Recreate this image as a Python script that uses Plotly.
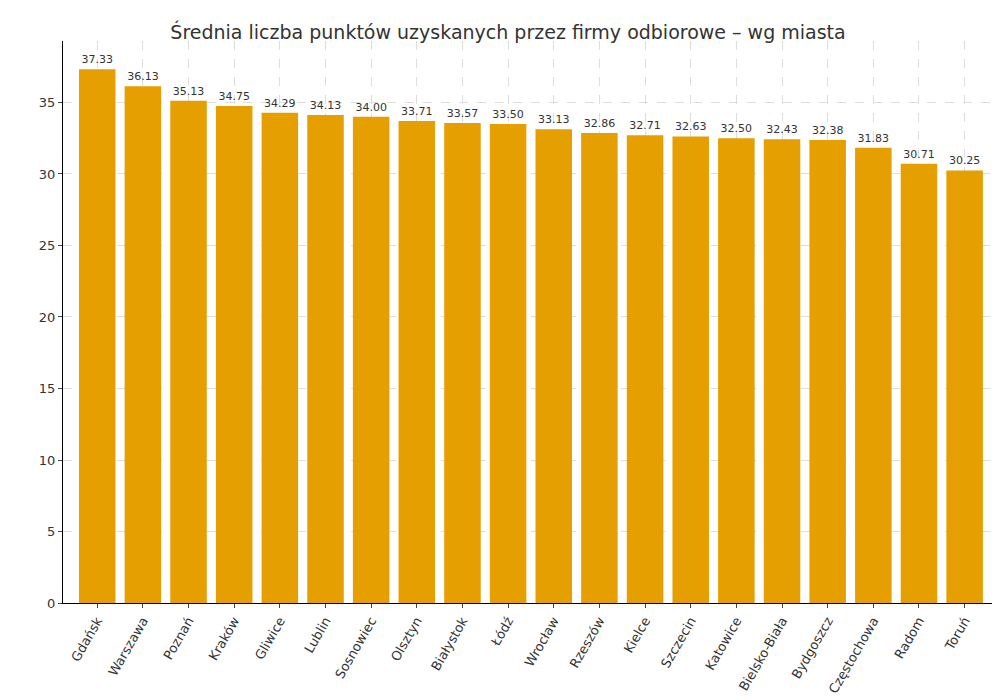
import plotly.graph_objects as go

# Dane
cities = ['Gdańsk', 'Warszawa', 'Poznań', 'Kraków', 'Gliwice', 'Lublin', 'Sosnowiec',
          'Olsztyn', 'Białystok', 'Łódź', 'Wrocław', 'Rzeszów', 'Kielce', 'Szczecin',
          'Katowice', 'Bielsko-Biała', 'Bydgoszcz', 'Częstochowa', 'Radom', 'Toruń']
avg_points = [37.33, 36.13, 35.13, 34.75, 34.29, 34.13, 34.00, 33.71, 33.57, 33.50,
              33.13, 32.86, 32.71, 32.63, 32.50, 32.43, 32.38, 31.83, 30.71, 30.25]

fig = go.Figure(go.Bar(
    x=cities, y=avg_points,
    marker=dict(color='#E69F00', line=dict(width=0)),
    width=0.8,
    text=[f'{v:.2f}' for v in avg_points],
    textposition='outside',
    textfont=dict(size=11, color='#333333'),
    cliponaxis=False,
))

fig.update_layout(
    width=1000, height=700,
    title=dict(text='Średnia liczba punktów uzyskanych przez firmy odbiorowe – wg miasta',
               x=0.5, xanchor='center', y=0.975, font=dict(size=19, color='#333333')),
    font=dict(family='DejaVu Sans', color='#333333'),
    plot_bgcolor='white', paper_bgcolor='white',
    margin=dict(l=55, r=0, t=33, b=105),
    showlegend=False,
    bargap=0.2,
)
fig.update_xaxes(
    range=[-0.75, 19.95], tickangle=-60, tickfont=dict(size=13),
    showgrid=True, gridcolor='#dddddd', griddash='dash',
    showline=True, linecolor='black', ticks='outside', ticklen=4,
)
fig.update_yaxes(
    range=[0, 39.3], dtick=5, tickfont=dict(size=13),
    showgrid=True, gridcolor='#dddddd', griddash='dash', zeroline=False,
    showline=True, linecolor='black', ticks='outside', ticklen=4,
)

fig.write_html('out.html')
